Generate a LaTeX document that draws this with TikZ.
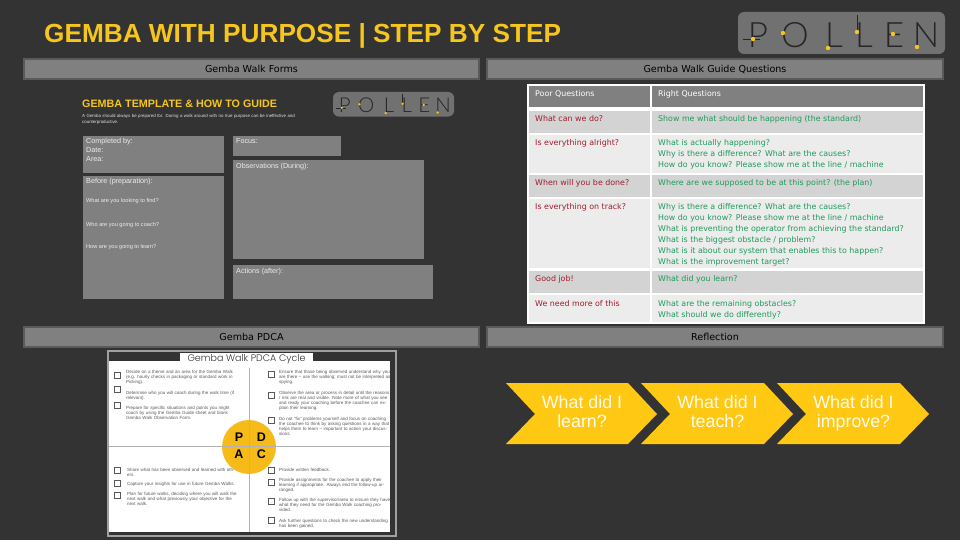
\documentclass[tikz,border=0pt]{standalone}
\usepackage{fontspec}
\setmainfont{Liberation Sans}
\newfontfamily\barfont{DejaVu Sans}
\newfontfamily\logofont{Lato Light}
\newfontfamily\cyclefont{Poppins Light}
\usetikzlibrary{positioning, calc}

\definecolor{slide}{HTML}{333333}
\definecolor{bar}{HTML}{808080}
\definecolor{barline}{HTML}{5A5A5A}
\definecolor{gold}{HTML}{F6C51E}
\definecolor{chevron}{HTML}{FFC813}
\definecolor{poor}{HTML}{A01C2C}
\definecolor{right}{HTML}{1F9A5C}
\definecolor{rowdark}{HTML}{D3D3D3}
\definecolor{rowlight}{HTML}{ECECEC}

\tikzset{
  headbar/.style={draw=barline, line width=2pt, fill=bar, minimum height=20pt, inner sep=0pt, text=black, font=\barfont\fontsize{9.6}{11}\selectfont},
  formbox/.style={fill=bar},
  formtext/.style={anchor=north west, inner sep=0pt, text=white!85!bar, align=left, font=\fontsize{7.2}{8.6}\selectfont},
  qtext/.style={anchor=north west, inner sep=0pt, align=left, font=\barfont\fontsize{7.9}{11}\selectfont},
  checktext/.style={anchor=north west, inner sep=0pt, align=left, text width=112pt, text=black!65, font=\fontsize{4.5}{4.9}\selectfont},
  checkbox/.style={draw=black!65, line width=0.5pt},
  chevtext/.style={anchor=north, inner sep=0pt, align=center, text=white!92!chevron, font=\fontsize{17.8}{19.5}\selectfont},
  pdca/.style={inner sep=0pt, font=\bfseries\fontsize{12.5}{13}\selectfont},
  pollen/.pic={
    \fill[bar!88!black, rounded corners=6pt] (0,0) rectangle (207,42);
    \foreach \n/\x/\t in {p/20/P, o/57/O, l/96/L, m/126/L, e/156/E, n/188/N}
      \node[inner sep=0pt, text=black!85, font=\logofont\fontsize{35}{35}\selectfont] (\n) at (\x,23) {\t};
    \draw[black!85, line width=0.5pt] (5,27) -- (22,27) (119,3) -- (119,18);
    \foreach \x/\y in {15/27, 45/21, 90/36, 119/20, 155/22, 179/35}
      \fill[gold] (\x,\y) circle (2.2);
  }
}

\begin{document}
\begin{tikzpicture}[x=1pt,y=-1pt]
  \useasboundingbox (0,0) rectangle (960,540);
  \fill[slide] (0,0) rectangle (960,540);

  % Title
  \node[anchor=base west, inner sep=0pt, text=gold, font=\bfseries\fontsize{26.2}{30}\selectfont] (title) at (44,43) {GEMBA WITH PURPOSE | STEP BY STEP};
  \pic (biglogo) at (738,12) {pollen};

  % Section bars
  \node[headbar, minimum width=455pt] (forms) at (251.5,69) {Gemba Walk Forms};
  \node[headbar, minimum width=456pt] (guide) at (715,69) {Gemba Walk Guide Questions};
  \node[headbar, minimum width=455pt] (plan) at (251.5,336.5) {Gemba PDCA};
  \node[headbar, minimum width=456pt] (reflect) at (715,336.5) {Reflection};

  % Template
  \node[anchor=base west, inner sep=0pt, text=gold, font=\bfseries\fontsize{10.75}{13}\selectfont] (tmplhead) at (82,108) {GEMBA TEMPLATE \& HOW TO GUIDE};
  \node[anchor=north west, inner sep=0pt, text=white!85!slide, text width=225pt, align=left, font=\fontsize{4.4}{5.6}\selectfont] (tmplintro) at (82,114.5) {A Gemba should always be prepared for. During a walk around with no true purpose can be ineffective and counterproductive.};
  \pic[scale=0.585, transform shape] (smalllogo) at (333,92) {pollen};

  \foreach \xa/\ya/\xb/\yb in {83/136/224/173, 83/176/224/299, 233/136/341/156, 233/160/424/259, 233/265/433/299}
    \fill[formbox] (\xa,\ya) rectangle (\xb,\yb);

  \node[formtext] (completed) at (86,138.5) {Completed by:\\Date:\\Area:};
  \node[formtext] (before) at (86,178.5) {Before (preparation):};
  \node[formtext, font=\fontsize{5.6}{6}\selectfont] (find) at (86,198) {What are you looking to find?};
  \node[formtext, font=\fontsize{5.6}{6}\selectfont] (coach) at (86,222) {Who are you going to coach?};
  \node[formtext, font=\fontsize{5.6}{6}\selectfont] (learn) at (86,244.5) {How are you going to learn?};
  \node[formtext] (focus) at (236,138.5) {Focus:};
  \node[formtext] (observe) at (236,163) {Observations (During):};
  \node[formtext] (actions) at (236,268) {Actions (after):};

  % Question table
  \fill[white] (527,84) rectangle (925,324);
  \foreach \ya/\yb/\c in {86/107/bar, 111/133/rowdark, 135/173/rowlight, 175/197/rowdark, 199/268/rowlight, 271/293/rowdark, 295/322/rowlight} {
    \fill[\c] (529,\ya) rectangle (650,\yb);
    \fill[\c] (652,\ya) rectangle (923,\yb);
  }

  \node[qtext, text=white] (poorhead) at (535,90) {Poor Questions};
  \node[qtext, text=white] (righthead) at (658,90) {Right Questions};

  \foreach \n/\y/\t in {a/115/{What can we do?}, b/139/{Is everything alright?}, c/179/{When will you be done?}, d/203/{Is everything on track?}, e/275/{Good job!}, f/300/{We need more of this}}
    \node[qtext, text=poor] (poor\n) at (535,\y) {\t};

  \node[qtext, text=right] (righta) at (658,115) {Show me what should be happening (the standard)};
  \node[qtext, text=right] (rightb) at (658,139) {What is actually happening?\\Why is there a difference? What are the causes?\\How do you know? Please show me at the line / machine};
  \node[qtext, text=right] (rightc) at (658,179) {Where are we supposed to be at this point? (the plan)};
  \node[qtext, text=right] (rightd) at (658,203) {Why is there a difference? What are the causes?\\How do you know? Please show me at the line / machine\\What is preventing the operator from achieving the standard?\\What is the biggest obstacle / problem?\\What is it about our system that enables this to happen?\\What is the improvement target?};
  \node[qtext, text=right] (righte) at (658,275) {What did you learn?};
  \node[qtext, text=right] (rightf) at (658,300) {What are the remaining obstacles?\\What should we do differently?};

  % PDCA sheet
  \draw[bar!75!white, line width=2pt, fill=slide] (108,351) rectangle (396,536);
  \fill[white] (109,361) rectangle (390,532);
  \fill[white] (180,353) rectangle (313,361);
  \node[inner sep=0pt, font=\cyclefont\fontsize{9.5}{10}\selectfont, text=black!80] (cycle) at (246.5,359.5) {Gemba Walk PDCA Cycle};
  \draw[black!30, line width=0.6pt] (249,368) -- (249,532) (109,446) -- (390,446);

  \foreach \x/\y in {114/372, 114/386, 114/402, 114/467, 114/480, 114/492, 268/371, 268/392, 268/417, 268/467, 268/479, 268/498, 268/517}
    \draw[checkbox] (\x,\y) rectangle ++(6.5,6.5);

  \node[checktext] (plana) at (126,370.5) {Decide on a theme and an area for the Gemba Walk (e.g. hourly checks in packaging or standard work in Picking).};
  \node[checktext] (planb) at (126,391) {Determine who you will coach during the walk time (if relevant).};
  \node[checktext] (planc) at (126,406) {Prepare for specific situations and points you might coach by using the Gemba Guide sheet and blank Gemba Walk Observation Form.};
  \node[checktext] (doa) at (279,370.5) {Ensure that those being observed understand why you are there -- use the walking; must not be interpreted as spying.};
  \node[checktext] (dob) at (279,391) {Observe the area or process in detail until the reasons / risk are real and visible. Note more of what you see and ready your coaching before the coachee can explain their learning.};
  \node[checktext] (doc) at (279,417) {Do not ``fix'' problems yourself and focus on coaching the coachee to think by asking questions in a way that helps them to learn -- important to action your discussions.};
  \node[checktext] (acta) at (127,468.5) {Share what has been observed and learned with others.};
  \node[checktext] (actb) at (127,482) {Capture your insights for use in future Gemba Walks.};
  \node[checktext] (actc) at (127,492.5) {Plan for future walks, deciding where you will walk the next walk and what previously your objective for the next walk.};
  \node[checktext] (checka) at (279,468.5) {Provide written feedback.};
  \node[checktext] (checkb) at (279,478) {Provide assignments for the coachee to apply their learning if appropriate. Always end the follow-up arranged.};
  \node[checktext] (checkc) at (279,498) {Follow up with the supervisor/area to ensure they have what they need for the Gemba Walk coaching provided.};
  \node[checktext] (checkd) at (279,519) {Ask further questions to check the new understanding has been gained.};

  \fill[gold!85!orange] (249,447) circle (27);
  \draw[black!30, line width=0.4pt] (249,420) -- (249,474) (222,446) -- (276,446);
  \node[pdca] (p) at (239,437) {P};
  \node[pdca] (d) at (261.5,437) {D};
  \node[pdca] (a) at (239,454.5) {A};
  \node[pdca] (c) at (261.5,454.5) {C};

  % Reflection chevrons
  \foreach \xa/\xb/\n/\t in {506/628/learn/{What did I\\learn?}, 641/764/teach/{What did I\\teach?}, 777/900/improve/{What did I\\improve?}} {
    \fill[chevron] (\xa,383) -- (\xb,383) -- (\xb+29,414) -- (\xb,444) -- (\xa,444) -- (\xa+29,414) -- cycle;
    \node[chevtext] (\n) at ({(\xa+\xb+29)/2+0.5},395) {\t};
  }
\end{tikzpicture}
\end{document}
